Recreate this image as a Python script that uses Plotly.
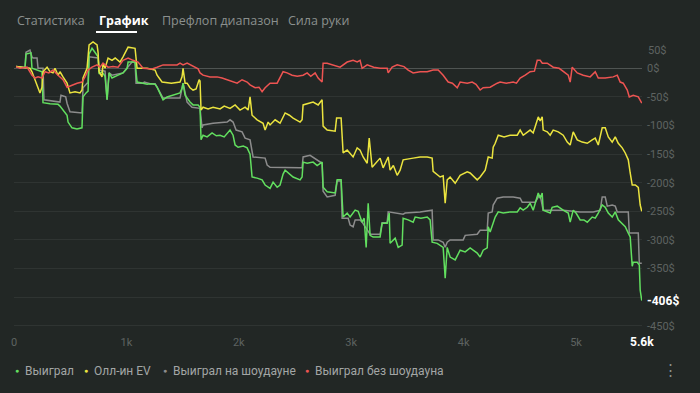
import plotly.graph_objects as go

# ---------------- data (hands, $) ----------------
won_hands = [18, 98, 107, 151, 160, 214, 249, 258, 320, 392, 409, 472, 481, 516, 560, 605, 614, 641, 659, 668, 694, 720, 748, 757, 783, 810, 828, 846, 872, 926, 970, 1006, 1015, 1077, 1095, 1148, 1184, 1210, 1255, 1273, 1317, 1326, 1362, 1415, 1477, 1495, 1504, 1522, 1540, 1566, 1593, 1638, 1655, 1664, 1682, 1718, 1762, 1800, 1833, 1870, 1922, 1949, 1967, 1994, 2040, 2074, 2100, 2118, 2163, 2207, 2234, 2252, 2278, 2305, 2341, 2367, 2394, 2412, 2456, 2483, 2545, 2563, 2572, 2608, 2661, 2697, 2741, 2750, 2786, 2857, 2875, 2910, 2928, 2964, 2990, 3035, 3062, 3097, 3115, 3133, 3151, 3168, 3195, 3257, 3275, 3320, 3338, 3346, 3391, 3418, 3453, 3462, 3507, 3551, 3569, 3620, 3676, 3702, 3720, 3765, 3818, 3836, 3854, 3880, 3925, 3969, 4014, 4058, 4085, 4121, 4147, 4174, 4210, 4219, 4236, 4263, 4281, 4308, 4352, 4414, 4477, 4503, 4530, 4566, 4592, 4619, 4655, 4664, 4681, 4699, 4708, 4744, 4770, 4788, 4833, 4886, 4931, 4948, 4975, 5000, 5037, 5070, 5100, 5144, 5171, 5198, 5233, 5260, 5287, 5322, 5349, 5376, 5411, 5438, 5465, 5482, 5500, 5509, 5545, 5563, 5571, 5580, 5585]
won_usd = [3, 1, 25, 27, 0, -3, -6, -60, -62, -63, -66, -82, -94, -104, -106, -104, -50, -43, -40, 25, 35, 28, 20, -10, -6, -14, -55, -8, -17, -12, -8, 0, 11, 11, -24, -26, -28, -27, -28, -33, -50, -55, -50, -47, -43, -35, -26, -47, -52, -59, -64, -64, -68, -125, -117, -120, -113, -118, -117, -120, -108, -117, -134, -138, -136, -139, -150, -190, -192, -195, -204, -207, -210, -199, -208, -204, -185, -178, -185, -190, -195, -190, -164, -166, -164, -170, -164, -208, -216, -218, -195, -195, -260, -253, -260, -248, -250, -269, -262, -313, -236, -292, -295, -295, -271, -271, -253, -306, -297, -313, -309, -262, -265, -269, -260, -262, -260, -265, -304, -306, -313, -367, -313, -330, -335, -318, -321, -314, -318, -323, -330, -318, -314, -277, -286, -269, -260, -251, -253, -251, -251, -244, -248, -243, -236, -248, -225, -218, -227, -218, -248, -251, -253, -243, -241, -248, -253, -269, -248, -253, -265, -265, -269, -260, -262, -253, -239, -243, -253, -260, -251, -265, -271, -277, -288, -295, -346, -339, -339, -344, -388, -401, -406]

ev_hands = [18, 80, 142, 160, 187, 205, 231, 249, 258, 294, 320, 347, 365, 392, 409, 436, 472, 498, 543, 587, 605, 614, 650, 668, 703, 739, 748, 757, 783, 792, 810, 837, 872, 900, 943, 970, 1006, 1015, 1077, 1095, 1184, 1220, 1255, 1273, 1317, 1400, 1477, 1495, 1504, 1522, 1540, 1566, 1593, 1620, 1647, 1655, 1664, 1682, 1727, 1771, 1833, 1870, 1922, 1967, 1990, 2011, 2056, 2083, 2100, 2118, 2163, 2216, 2234, 2261, 2278, 2323, 2367, 2412, 2450, 2483, 2545, 2563, 2572, 2617, 2661, 2706, 2741, 2750, 2786, 2857, 2870, 2910, 2928, 2964, 3000, 3017, 3053, 3079, 3106, 3142, 3160, 3186, 3257, 3284, 3329, 3346, 3375, 3409, 3435, 3462, 3551, 3613, 3676, 3720, 3729, 3791, 3818, 3836, 3854, 3880, 3925, 3969, 4032, 4058, 4121, 4147, 4192, 4219, 4254, 4263, 4281, 4308, 4360, 4414, 4477, 4503, 4530, 4575, 4592, 4619, 4655, 4664, 4681, 4699, 4708, 4744, 4770, 4797, 4842, 4886, 4922, 4948, 4975, 5011, 5055, 5100, 5144, 5171, 5198, 5233, 5260, 5287, 5322, 5349, 5376, 5411, 5438, 5465, 5482, 5500, 5527, 5554, 5571, 5585]
ev_usd = [3, 1, 0, -6, -20, -29, -43, -33, -6, 2, -6, -8, 0, -12, -6, -15, -26, -43, -41, -43, -38, -17, 0, 41, 46, 41, 28, -6, -15, 9, 0, 18, 14, 18, 11, 20, 35, 37, 35, 0, 0, -2, -3, -12, -24, -26, -24, -15, 0, -26, -26, -34, -38, -36, -20, -22, -73, -68, -71, -68, -71, -66, -70, -64, -68, -73, -68, -73, -50, -82, -90, -96, -108, -94, -99, -90, -96, -78, -82, -87, -94, -90, -64, -61, -59, -64, -55, -101, -108, -110, -87, -87, -148, -143, -150, -155, -139, -143, -155, -166, -122, -173, -157, -174, -155, -178, -170, -187, -178, -160, -157, -155, -155, -157, -180, -190, -188, -236, -195, -190, -201, -187, -181, -183, -195, -190, -178, -155, -157, -138, -131, -117, -120, -117, -117, -108, -117, -111, -108, -113, -90, -85, -92, -85, -108, -111, -117, -108, -111, -117, -129, -134, -111, -125, -129, -131, -125, -122, -134, -104, -104, -120, -129, -120, -131, -139, -148, -160, -183, -204, -204, -208, -239, -250]

sd_hands = [18, 98, 107, 142, 160, 169, 205, 214, 258, 267, 409, 418, 460, 472, 498, 605, 614, 650, 659, 668, 748, 757, 810, 828, 846, 872, 970, 1050, 1077, 1086, 1148, 1160, 1210, 1255, 1273, 1326, 1477, 1495, 1504, 1540, 1584, 1655, 1673, 1682, 1771, 1896, 1922, 1949, 1976, 2029, 2056, 2100, 2118, 2127, 2234, 2252, 2278, 2394, 2545, 2563, 2572, 2634, 2697, 2723, 2741, 2750, 2786, 2857, 2875, 2910, 2919, 2973, 2990, 3017, 3035, 3079, 3097, 3168, 3257, 3275, 3320, 3329, 3462, 3480, 3613, 3720, 3729, 3774, 3818, 3836, 3854, 3880, 3996, 4014, 4121, 4147, 4210, 4219, 4254, 4263, 4299, 4352, 4441, 4503, 4521, 4637, 4664, 4681, 4699, 4708, 4886, 5037, 5153, 5215, 5233, 5260, 5278, 5322, 5349, 5367, 5465, 5474, 5554, 5563, 5585]
sd_usd = [3, 1, 28, 32, 20, 18, 18, 0, 0, -55, -59, -47, -50, -61, -76, -78, -34, -26, -26, 20, 18, -3, -5, -55, -8, -12, -8, 11, 11, -26, -26, -24, -27, -27, -33, -52, -52, -35, -26, -59, -68, -70, -104, -99, -96, -94, -90, -94, -108, -111, -122, -125, -148, -155, -157, -169, -173, -174, -174, -174, -155, -152, -160, -164, -166, -215, -225, -222, -197, -197, -262, -262, -274, -277, -265, -265, -269, -290, -290, -270, -270, -251, -255, -253, -251, -248, -300, -300, -304, -313, -304, -300, -300, -292, -290, -283, -283, -253, -251, -239, -227, -225, -225, -227, -234, -234, -225, -222, -236, -248, -248, -251, -251, -248, -225, -225, -241, -239, -241, -251, -251, -288, -288, -341, -341]

nsd_hands = [18, 53, 116, 142, 160, 187, 214, 249, 276, 310, 347, 392, 436, 472, 516, 561, 605, 632, 659, 694, 739, 765, 792, 837, 881, 926, 970, 1015, 1059, 1104, 1148, 1184, 1228, 1273, 1326, 1415, 1451, 1477, 1504, 1540, 1566, 1611, 1638, 1655, 1682, 1744, 1807, 1851, 1896, 1949, 1985, 2029, 2074, 2100, 2145, 2180, 2207, 2234, 2278, 2341, 2367, 2394, 2430, 2474, 2520, 2572, 2608, 2640, 2679, 2706, 2741, 2750, 2786, 2839, 2901, 2964, 3017, 3053, 3079, 3097, 3142, 3200, 3257, 3320, 3329, 3364, 3409, 3470, 3507, 3551, 3613, 3676, 3729, 3774, 3818, 3863, 3900, 3943, 3969, 4032, 4076, 4110, 4147, 4174, 4236, 4299, 4325, 4380, 4441, 4470, 4503, 4548, 4592, 4630, 4655, 4681, 4700, 4744, 4797, 4850, 4886, 4931, 4948, 4966, 5011, 5064, 5126, 5171, 5198, 5260, 5331, 5367, 5393, 5420, 5456, 5474, 5509, 5554, 5585]
nsd_usd = [3, 0, 2, -6, -12, -17, -15, -17, -6, -8, -3, -12, -20, -33, -29, -26, -24, -15, -3, 2, 6, 2, 9, 2, 3, 2, 14, 18, 14, 11, 0, 0, -1, 2, 6, 6, 6, 9, 6, 9, 6, 2, -1, -8, -12, -15, -15, -17, -20, -24, -26, -20, -24, -29, -34, -33, -41, -34, -26, -26, -17, -6, -8, -12, -14, -12, -8, -14, -8, -17, -24, 9, 9, 6, 2, 11, 14, 11, 14, 0, 6, 2, 0, 0, -8, 2, 6, 3, -3, -8, -6, -6, -3, -3, -12, -24, -26, -34, -24, -26, -24, -28, -38, -34, -33, -26, -24, -26, -24, -26, -17, -12, -6, -5, 14, 14, 9, 9, 2, 0, -6, -12, -24, 2, -8, -12, -15, -6, -17, -17, -15, -12, -24, -26, -38, -50, -47, -50, -61]

x_tick_vals = [0, 1000, 2000, 3000, 4000, 5000]
x_tick_text = ["0", "1k", "2k", "3k", "4k", "5k"]
y_tick_vals = [0, -50, -100, -150, -200, -250, -300, -350, -400, -450]
y_tick_text = ["0$", "-50$", "-100$", "-150$", "-200$", "-250$", "-300$", "-350$", "", "-450$"]
last_hand_label = "5.6k"
last_won_label = "-406$"

tabs = ["Статистика", "График", "Префлоп диапазон", "Сила руки"]
series_names = ["Выиграл", "Олл-ин EV", "Выиграл на шоудауне", "Выиграл без шоудауна"]
series_colors = ["#62df5f", "#ebe43f", "#8c8c8c", "#ee5452"]

BG = "#222725"
FONT = "Roboto, 'Noto Sans', sans-serif"
W, H = 700, 393
ML, MR, MT, MB = 14, 58, 40, 65
PW, PH = W - ML - MR, H - MT - MB


def px(x):
    return (x - ML) / PW


def py(y):
    return (H - MB - y) / PH


fig = go.Figure()
order = [2, 0, 1, 3]
data = [(won_hands, won_usd), (ev_hands, ev_usd), (sd_hands, sd_usd), (nsd_hands, nsd_usd)]
for i in order:
    xs, ys = data[i]
    fig.add_trace(go.Scatter(x=xs, y=ys, mode="lines", name=series_names[i],
                             line=dict(color=series_colors[i], width=1.5),
                             hoverinfo="skip", showlegend=False))

fig.update_layout(
    width=W, height=H,
    margin=dict(l=ML, r=MR, t=MT, b=MB),
    paper_bgcolor=BG, plot_bgcolor=BG,
    font=dict(family=FONT, color="#6a6f6d", size=11),
    xaxis=dict(range=[0, 5587], tickvals=x_tick_vals, ticktext=x_tick_text,
               showgrid=False, zeroline=False, showline=False, ticks="",
               tickfont=dict(size=11, color="#5e6361"), ticklabelstandoff=6,
               fixedrange=True),
    yaxis=dict(range=[-454, 49.5], side="right", tickvals=y_tick_vals, ticktext=y_tick_text,
               showgrid=True, gridcolor="#2f3432", gridwidth=1,
               zeroline=True, zerolinecolor="#4f5452", zerolinewidth=1.2,
               showline=False, ticks="", tickfont=dict(size=11, color="#5e6361"),
               ticklabelstandoff=4, fixedrange=True),
    showlegend=False,
)

ann = []
tab_x = [15, 97, 160, 286]
for i, (t, x) in enumerate(zip(tabs, tab_x)):
    active = (i == 1)
    ann.append(dict(text=("<b>%s</b>" % t) if active else t, x=px(x), y=py(20),
                    xref="paper", yref="paper", xanchor="left", yanchor="middle",
                    showarrow=False,
                    font=dict(family="'Open Sans', 'Noto Sans', sans-serif", size=12.5,
                              color="#ffffff" if active else "#8b908e")))
ann.append(dict(text="50$", x=1, xshift=4, y=py(50), xref="paper", yref="paper", xanchor="left",
                yanchor="middle", showarrow=False, font=dict(size=11, color="#5e6361")))
ann.append(dict(text="<b>%s</b>" % last_won_label, x=1, xshift=3, y=won_usd[-1], xref="paper", yref="y",
                xanchor="left", yanchor="middle", showarrow=False,
                font=dict(size=12, color="#ffffff")))
ann.append(dict(text="<b>%s</b>" % last_hand_label, x=won_hands[-1], y=py(342), xref="x", yref="paper",
                xanchor="center", yanchor="middle", showarrow=False,
                font=dict(size=12, color="#ffffff")))
leg_x = [17, 86, 165, 307]
for name, col, x in zip(series_names, series_colors, leg_x):
    ann.append(dict(text="●", x=px(x), y=py(371), xref="paper", yref="paper",
                    xanchor="center", yanchor="middle", showarrow=False,
                    font=dict(size=7, color=col)))
    ann.append(dict(text=name, x=px(x + 6), y=py(371), xref="paper", yref="paper",
                    xanchor="left", yanchor="middle", showarrow=False,
                    font=dict(size=12, color="#a3a6a5")))
ann.append(dict(text="⋮", x=px(670), y=py(370), xref="paper", yref="paper",
                xanchor="center", yanchor="middle", showarrow=False,
                font=dict(size=15, color="#8b908e")))
fig.update_layout(annotations=ann)

fig.add_shape(type="line", xref="paper", yref="paper", x0=px(96), x1=px(137),
              y0=py(32), y1=py(32), line=dict(color="#ffffff", width=2))

fig.write_html("out.html", config={"displayModeBar": False},
               post_script="document.body.style.margin='0';document.body.style.background='%s';" % BG)
